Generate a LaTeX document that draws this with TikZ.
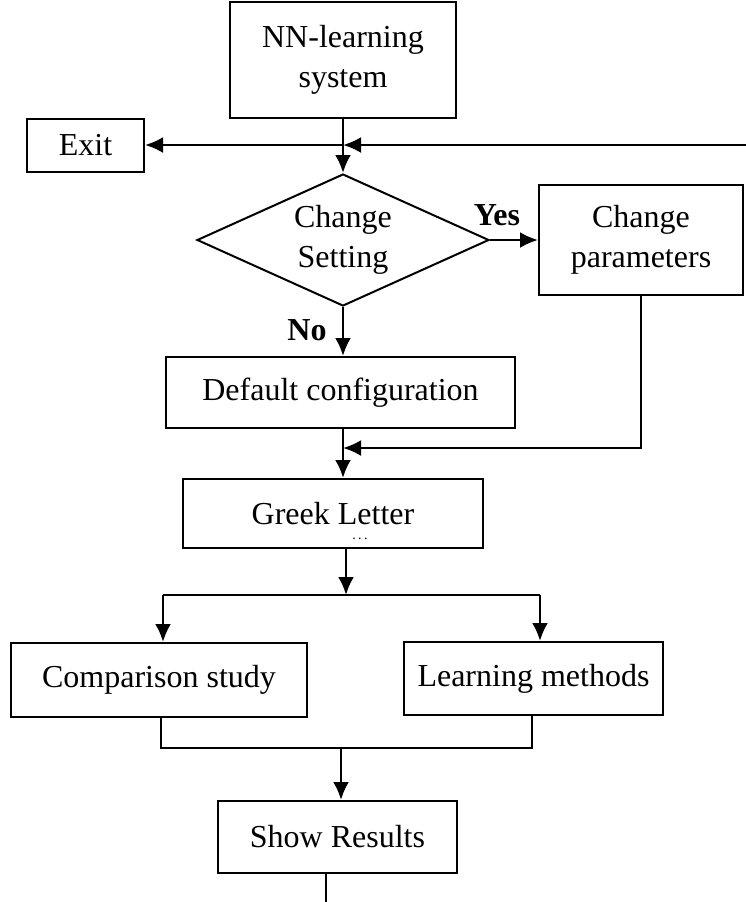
\documentclass[tikz,border=0pt]{standalone}
\usepackage{fontspec}
\setmainfont{Liberation Serif}
\usetikzlibrary{arrows.meta, shapes.geometric}

\begin{document}
\begin{tikzpicture}[x=0.5pt, y=-0.5pt, line width=1pt,
        every node/.style={font=\fontsize{16}{20}\selectfont},
        box/.style={draw, rectangle, align=center, inner sep=0pt},
        decision/.style={draw, diamond, aspect=2.2, inner sep=0pt, align=center},
        flow/.style={-{Latex[length=9pt, width=8pt]}, line width=1.3pt},
        answer/.style={font=\fontsize{16}{20}\selectfont\bfseries}]
    %\draw[help lines, step=50] (0, 0) grid (746, 902);
    \useasboundingbox (0, 0) rectangle (746, 902);
    % boxes
    \node[box, minimum width=113pt, minimum height=58pt] (nn) at (343, 60) {NN-learning\\system};
    \node[box, minimum width=58.5pt, minimum height=26.5pt] (exit) at (85.5, 145) {Exit};
    \node[decision, minimum width=146pt, minimum height=66pt] (chg) at (343, 240) {Change\\Setting};
    \node[box, minimum width=102pt, minimum height=55pt] (par) at (641, 240) {Change\\parameters};
    \node[box, minimum width=174.5pt, minimum height=35.5pt] (def) at (340.5, 392.5) {Default configuration};
    \node[box, minimum width=150pt, minimum height=34.5pt] (grk) at (333, 513.5) {Greek Letter};
    \node[font=\scriptsize, inner sep=0pt] (grkdots) at (360, 539) {.\,.\,.};
    \node[box, minimum width=148pt, minimum height=37pt] (cmp) at (159, 680) {Comparison study};
    \node[box, minimum width=129.5pt, minimum height=36.5pt] (lrn) at (533.5, 678.5) {Learning methods};
    \node[box, minimum width=119.5pt, minimum height=36pt] (res) at (337.5, 837) {Show Results};
    % labels
    \node[answer] (yes) at (497, 215) {Yes};
    \node[answer] (no) at (307, 330) {No};
    % junction points
    \coordinate (loopin) at (746, 145);
    \coordinate (cross) at (343, 145);
    \coordinate (merge) at (343, 448);
    \coordinate (split) at (346, 595);
    \coordinate (splitL) at (163, 595);
    \coordinate (splitR) at (540, 595);
    \coordinate (cmpout) at (161, 748);
    \coordinate (lrnout) at (532, 748);
    \coordinate (join) at (341, 748);
    \coordinate (resout) at (326, 902);
    % connectors
    \draw[flow] (nn.south) -- (chg.north);
    \draw[flow] (loopin) -- (cross);
    \draw[flow] (cross) -- (exit.east);
    \draw[flow] (chg.east) -- (par.west);
    \draw[flow] (chg.south) -- (chg.south |- def.north);
    \draw[flow] (par.south) |- (merge);
    \draw[flow] (merge |- def.south) -- (merge |- grk.north);
    \draw[flow] (split |- grk.south) -- (split);
    \draw[line width=1.3pt] (splitL) -- (splitR);
    \draw[flow] (splitL) -- (splitL |- cmp.north);
    \draw[flow] (splitR) -- (splitR |- lrn.north);
    \draw (cmpout |- cmp.south) -- (cmpout) -- (lrnout) -- (lrnout |- lrn.south);
    \draw[flow] (join) -- (join |- res.north);
    \draw (resout |- res.south) -- (resout);
\end{tikzpicture}
\end{document}
